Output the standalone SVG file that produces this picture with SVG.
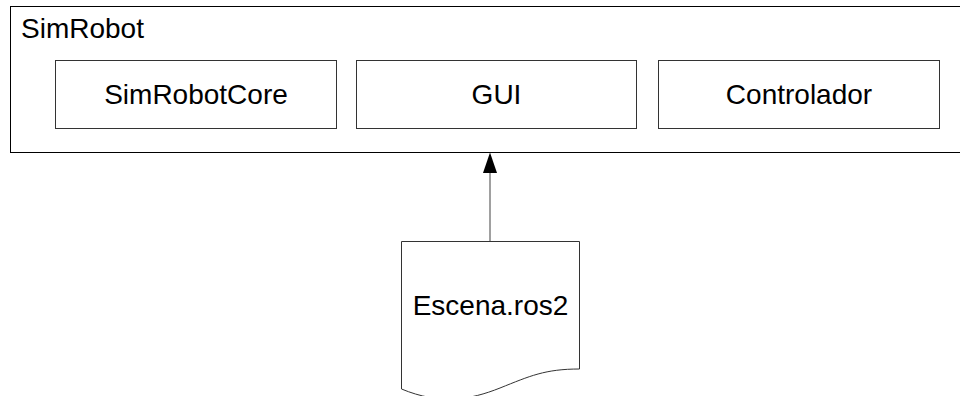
<svg xmlns="http://www.w3.org/2000/svg" width="960" height="396" viewBox="0 0 960 396">
<style>
.box{fill:#fff;stroke:#333;stroke-width:1}
.outer{fill:#fff;stroke:#000;stroke-width:1}
.lbl{font-family:"Liberation Sans",Arial,sans-serif;font-size:28px;fill:#000}
.c{text-anchor:middle}
</style>
<g id="SimRobot">
<rect class="outer" x="10.5" y="6.5" width="960" height="146"/>
<text class="lbl" x="21" y="38">SimRobot</text>
</g>
<g id="SimRobotCore">
<rect class="box" x="55.5" y="60.5" width="281" height="68"/>
<text class="lbl c" x="196" y="104">SimRobotCore</text>
</g>
<g id="GUI">
<rect class="box" x="356.5" y="60.5" width="280" height="68"/>
<text class="lbl c" x="496.5" y="104">GUI</text>
</g>
<g id="Controlador">
<rect class="box" x="658.5" y="60.5" width="281" height="68"/>
<text class="lbl c" x="799" y="104">Controlador</text>
</g>
<g id="connectors">
<line x1="490" y1="241" x2="490" y2="172" stroke="#808080" stroke-width="1.5"/>
<polygon points="490,152.5 483,173 497,173" fill="#000"/>
</g>
<g id="Escena">
<path class="box" d="M401.5,241.5 H579.5 V369 C545,369 530,376 500,388 C470,400 440,405 401.5,389 Z"/>
<text class="lbl c" x="490.5" y="315">Escena.ros2</text>
</g>
</svg>
